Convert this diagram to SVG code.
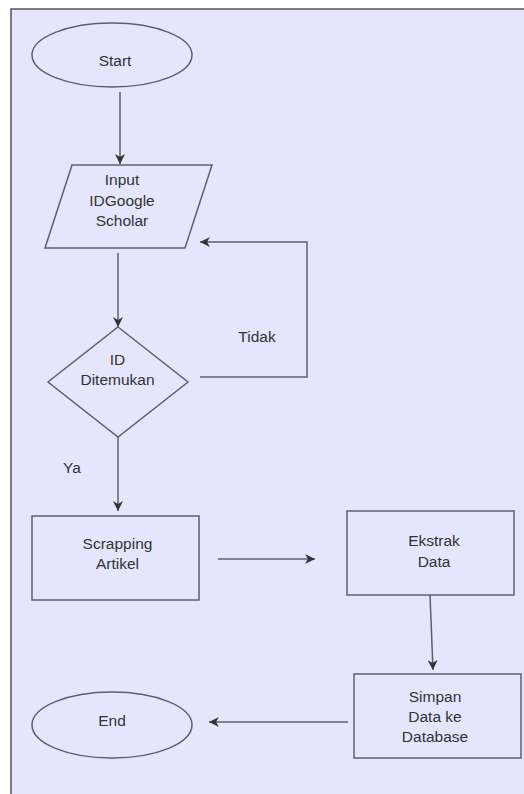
<svg xmlns="http://www.w3.org/2000/svg" width="524" height="794" viewBox="0 0 524 794">
<style>
.shape{fill:#e5e5fe;stroke:#5f5f6e;stroke-width:1.5}
.line{fill:none;stroke:#5f5f6e;stroke-width:1.5}
text{font-family:"Liberation Sans",Arial,sans-serif;font-size:15.5px;fill:#333;text-anchor:middle}
</style>
<defs>
<marker id="arr" markerUnits="userSpaceOnUse" markerWidth="10" markerHeight="10" viewBox="0 0 10 10" refX="10" refY="5" orient="auto">
<path d="M0,0 L10,5 L0,10 L3,5 Z" fill="#333"/>
</marker>
</defs>
<rect x="0" y="0" width="524" height="794" fill="#ffffff"/>
<rect x="11" y="9" width="520" height="792" fill="#e5e5fe" stroke="#555" stroke-width="1.5"/>
<g id="connectors">
<line class="line" x1="120" y1="92" x2="120" y2="164" marker-end="url(#arr)"/>
<line class="line" x1="118" y1="253" x2="118" y2="327" marker-end="url(#arr)"/>
<polyline class="line" points="200,377 307,377 307,242 200,242" marker-end="url(#arr)"/>
<line class="line" x1="118" y1="437" x2="118" y2="511" marker-end="url(#arr)"/>
<line class="line" x1="218" y1="559" x2="315" y2="559" marker-end="url(#arr)"/>
<line class="line" x1="430" y1="595" x2="433" y2="670" marker-end="url(#arr)"/>
<line class="line" x1="348" y1="722" x2="209" y2="722" marker-end="url(#arr)"/>
<text x="257" y="342">Tidak</text>
<text x="72" y="473">Ya</text>
</g>
<g id="start">
<ellipse class="shape" cx="112" cy="55" rx="80" ry="32"/>
<text x="115" y="66">Start</text>
</g>
<g id="input">
<polygon class="shape" points="72,165 212,165 185,248 45,248"/>
<text x="122" y="185">Input</text>
<text x="122" y="205.5">IDGoogle</text>
<text x="122" y="226">Scholar</text>
</g>
<g id="decision">
<polygon class="shape" points="118,327 188,382 118,437 48,382"/>
<text x="117.5" y="365">ID</text>
<text x="117.5" y="385">Ditemukan</text>
</g>
<g id="scrapping">
<rect class="shape" x="32" y="516" width="167" height="84"/>
<text x="117.5" y="549">Scrapping</text>
<text x="117.5" y="569">Artikel</text>
</g>
<g id="ekstrak">
<rect class="shape" x="347" y="511" width="167" height="84"/>
<text x="434" y="546">Ekstrak</text>
<text x="434" y="567">Data</text>
</g>
<g id="simpan">
<rect class="shape" x="354" y="674" width="167" height="84"/>
<text x="435" y="702">Simpan</text>
<text x="435" y="722">Data ke</text>
<text x="435" y="742">Database</text>
</g>
<g id="end">
<ellipse class="shape" cx="112" cy="725" rx="80" ry="33"/>
<text x="112" y="726">End</text>
</g>
</svg>
